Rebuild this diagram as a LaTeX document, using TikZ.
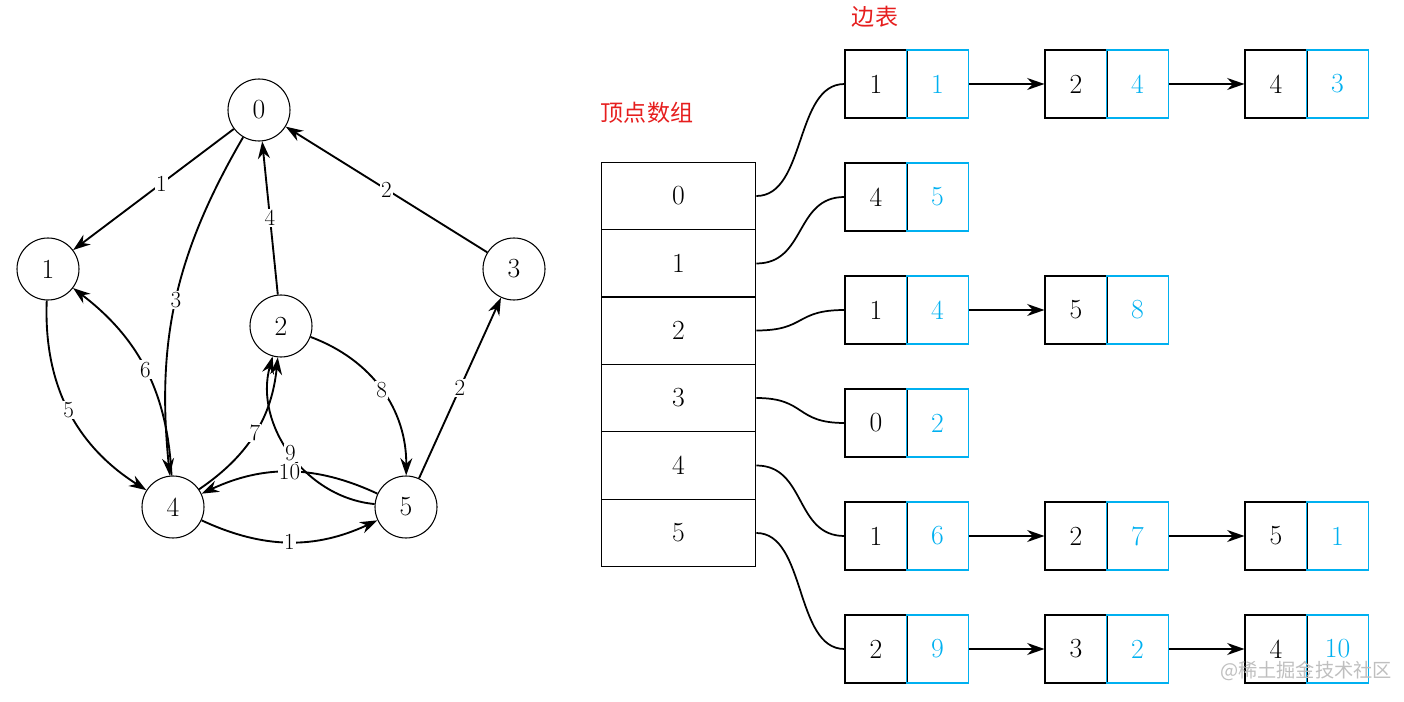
\documentclass[tikz,border=0pt]{standalone}
\usepackage{fontspec}
\newfontfamily\cjk{Noto Sans CJK SC}
\usetikzlibrary{arrows.meta}
\definecolor{cy}{RGB}{0,176,240}
\definecolor{rd}{RGB}{230,30,30}
\begin{document}
\begin{tikzpicture}[x=0.75pt,y=-0.75pt,line width=0.8pt,
 v/.style={circle,draw,minimum size=46.5pt,inner sep=0,font=\huge},
 e/.style={-{Stealth[length=13pt,width=9pt]},line width=1.4pt},
 lb/.style={fill=white,inner sep=1pt,font=\LARGE},
 cell/.style={draw,minimum width=46.5pt,minimum height=51pt,inner sep=0,font=\huge},
 ccell/.style={cell,draw=cy,text=cy},
 arr/.style={draw,minimum width=116pt,minimum height=50.6pt,inner sep=0,font=\huge}]
\useasboundingbox (0,0) rectangle (1404,702);
% graph
\node[v] (n0) at (259,110) {0};
\node[v] (n1) at (48,269) {1};
\node[v] (n2) at (281,326) {2};
\node[v] (n3) at (514,269) {3};
\node[v] (n4) at (173,507) {4};
\node[v] (n5) at (406,507) {5};
\draw[e] (n0) -- node[lb,pos=0.45]{1} (n1);
\draw[e] (n3) -- node[lb]{2} (n0);
\draw[e] (n2) -- node[lb]{4} (n0);
\draw[e] (n0) to[bend right=18] node[lb]{3} (n4);
\draw[e] (n1) to[bend right=30] node[lb]{5} (n4);
\draw[e] (n4) to[bend right=25] node[lb]{6} (n1);
\draw[e] (n4) to[bend right=25] node[lb]{7} (n2);
\draw[e] (n2) to[bend left=35] node[lb]{8} (n5);
\draw[e] (n5) to[bend left=50] node[lb]{9} (n2);
\draw[e] (n5) to[bend right=25] node[lb]{10} (n4);
\draw[e] (n4) to[bend right=25] node[lb]{1} (n5);
\draw[e] (n5) -- node[lb]{2} (n3);
% array
\node[text=rd,font=\cjk\LARGE] (t1) at (647,113) {顶点数组};
\node[text=rd,font=\cjk\LARGE] (t2) at (875,17) {边表};
\foreach \i/\y in {0/196,1/263.5,2/330.5,3/398,4/465.5,5/533}
  \node[arr] (a\i) at (678.5,\y) {\i};
\newcommand\bx[5]{\node[cell] (k#1#2) at (#3,#4) {#5};}
\newcommand\cc[5]{\node[ccell] (c#1#2) at (#3,#4) {#5};}
\bx{0}{0}{876}{84}{1}\cc{0}{0}{937.5}{84}{1}
\bx{0}{1}{1076}{84}{2}\cc{0}{1}{1137.5}{84}{4}
\bx{0}{2}{1276}{84}{4}\cc{0}{2}{1337.5}{84}{3}
\bx{1}{0}{876}{197}{4}\cc{1}{0}{937.5}{197}{5}
\bx{2}{0}{876}{310}{1}\cc{2}{0}{937.5}{310}{4}
\bx{2}{1}{1076}{310}{5}\cc{2}{1}{1137.5}{310}{8}
\bx{3}{0}{876}{423}{0}\cc{3}{0}{937.5}{423}{2}
\bx{4}{0}{876}{536}{1}\cc{4}{0}{937.5}{536}{6}
\bx{4}{1}{1076}{536}{2}\cc{4}{1}{1137.5}{536}{7}
\bx{4}{2}{1276}{536}{5}\cc{4}{2}{1337.5}{536}{1}
\bx{5}{0}{876}{649}{2}\cc{5}{0}{937.5}{649}{9}
\bx{5}{1}{1076}{649}{3}\cc{5}{1}{1137.5}{649}{2}
\bx{5}{2}{1276}{649}{4}\cc{5}{2}{1337.5}{649}{10}
\foreach \r/\a/\b in {0/0/1,0/1/2,2/0/1,4/0/1,4/1/2,5/0/1,5/1/2}
  \draw[e] (c\r\a.east) -- (k\r\b.west);
\foreach \i in {0,...,5}
  \draw[line width=1.3pt] (a\i.east) .. controls +(50,0) and +(-50,0) .. (k\i0.west);
\node[text=gray!50,font=\cjk\Large] (wm) at (1306,671) {@稀土掘金技术社区};
\end{tikzpicture}
\end{document}
